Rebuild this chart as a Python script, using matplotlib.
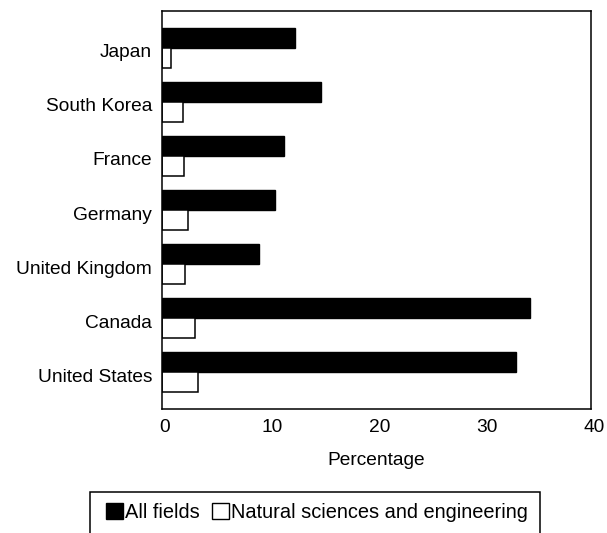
import matplotlib
matplotlib.use("Agg")
import matplotlib.pyplot as plt
import matplotlib.transforms as mtransforms
from matplotlib.patches import Patch, Rectangle
import numpy as np

countries = ["Japan", "South Korea", "France", "Germany",
             "United Kingdom", "Canada", "United States"]
all_fields = [12.4, 14.8, 11.4, 10.5, 9.0, 34.3, 33.0]
nat_sci_eng = [0.85, 2.0, 2.05, 2.4, 2.1, 3.1, 3.4]
x_ticks = [0, 10, 20, 30, 40]
series_labels = ["All fields", "Natural sciences and engineering"]

plt.rcParams["font.family"] = ["Liberation Sans", "DejaVu Sans"]
FS = 13.8

fig = plt.figure(figsize=(6.07, 5.33), dpi=100)
ax = fig.add_axes([162 / 607, 1 - 409 / 533, (591 - 162) / 607, (409 - 11) / 533])

n = len(countries)
ypos = np.arange(n)[::-1].astype(float)
h = 0.37

ax.barh(ypos + h / 2, all_fields, height=h, color="black",
        edgecolor="black", linewidth=1.0)
ax.barh(ypos - h / 2, nat_sci_eng, height=h, color="white",
        edgecolor="black", linewidth=1.1)

ax.set_xlim(0, 40)
ax.set_ylim(-0.685, n - 1 + 0.685)
ax.set_xticks(x_ticks)
ax.set_xticklabels([str(t) for t in x_ticks], fontsize=FS)
ax.set_yticks(ypos)
ax.set_yticklabels(countries, fontsize=FS)
ax.tick_params(axis="both", length=0)
ax.tick_params(axis="x", pad=7.0)
ax.tick_params(axis="y", pad=7.2)
ax.set_xlabel("Percentage", fontsize=FS, labelpad=11.5)

# small nudges of the tick labels
dx = mtransforms.ScaledTranslation(3 / 100, 0, fig.dpi_scale_trans)
for lab in ax.get_xticklabels():
    lab.set_transform(lab.get_transform() + dx)
dy = mtransforms.ScaledTranslation(0, -3 / 100, fig.dpi_scale_trans)
for lab in ax.get_yticklabels():
    lab.set_transform(lab.get_transform() + dy)

for s in ax.spines.values():
    s.set_linewidth(1.1)
    s.set_color("black")

handles = [Patch(facecolor="black", edgecolor="black"),
           Patch(facecolor="white", edgecolor="black", linewidth=1.0)]
leg = fig.legend(handles, series_labels, loc="center left",
                 bbox_to_anchor=(106 / 607, 1 - 512 / 533), ncol=2,
                 frameon=False, fontsize=14.4, borderpad=0, borderaxespad=0,
                 handlelength=0.85, handleheight=0.85, handletextpad=0.1,
                 columnspacing=0.6)

fig.add_artist(Rectangle((90 / 607, -0.05), (540 - 90) / 607, 0.05 + 41 / 533,
                         transform=fig.transFigure, fill=False,
                         edgecolor="black", linewidth=1.1, clip_on=False))

fig.savefig("out.png", dpi=100)
